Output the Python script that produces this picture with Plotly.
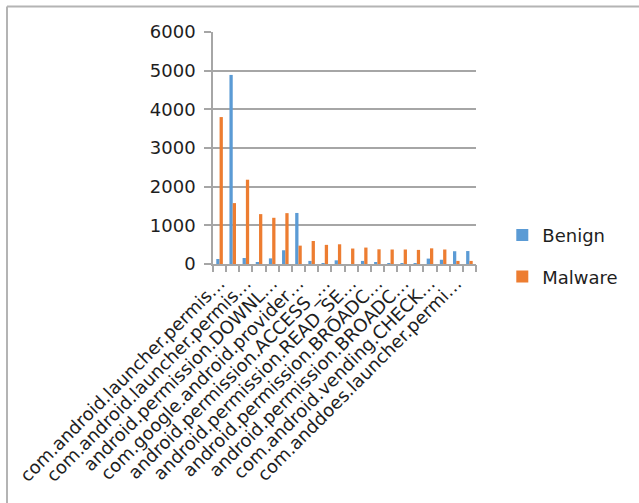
import plotly.graph_objects as go

# Permission labels as they appear on the axis (Excel-style truncation)
permissions = [
    "com.android.launcher.permis…",
    "com.android.launcher.permis…",
    "com.android.launcher.permis…",
    "android.permission.INTERN…",
    "android.permission.DOWNL…",
    "android.permission.WAKE_L…",
    "com.google.android.provider…",
    "android.permission.ACCESS_…",
    "android.permission.ACCESS_…",
    "android.permission.GET_TA…",
    "android.permission.READ_SE…",
    "android.permission.WRITE_…",
    "android.permission.BROADC…",
    "android.permission.BROADC…",
    "android.permission.BROADC…",
    "android.permission.BROADC…",
    "com.android.vending.CHECK…",
    "com.android.vending.BILLI…",
    "com.anddoes.launcher.permi…",
    "com.anddoes.launcher.permi…",
]
# Only every other category label is printed on the axis
labels_shown = [
    "com.android.launcher.permis…",
    "com.android.launcher.permis…",
    "android.permission.DOWNL…",
    "com.google.android.provider…",
    "android.permission.ACCESS_…",
    "android.permission.READ_SE…",
    "android.permission.BROADC…",
    "android.permission.BROADC…",
    "com.android.vending.CHECK…",
    "com.anddoes.launcher.permi…",
]

benign = [130, 4890, 155, 45, 145, 355, 1320, 80, 10, 95,
          0, 80, 35, 25, 25, 25, 140, 110, 330, 335]
malware = [3800, 1575, 2180, 1290, 1195, 1315, 475, 595, 495, 510,
           400, 425, 380, 375, 375, 365, 405, 375, 80, 80]

y_ticks = [0, 1000, 2000, 3000, 4000, 5000, 6000]

idx = list(range(len(benign)))
FONT = "DejaVu Sans"
GRID = "#a6a6a6"
TEXT = "#1e1e1e"
FS = 18

fig = go.Figure()
fig.add_trace(go.Bar(x=idx, y=benign, name="Benign", marker_color="#5b9bd5",
                     marker_line_width=0, legendgroup="b"))
fig.add_trace(go.Bar(x=idx, y=malware, name="Malware", marker_color="#ed7d31",
                     marker_line_width=0, legendgroup="m"))
# invisible trace on the overlay axis that carries the category boundary ticks
fig.add_trace(go.Scatter(x=[0], y=[0], xaxis="x2", mode="markers",
                         marker_opacity=0, showlegend=False, hoverinfo="skip"))

n = len(idx)
fig.update_layout(
    width=639, height=503,
    margin=dict(l=213, r=163, t=32, b=239),
    paper_bgcolor="white", plot_bgcolor="white",
    barmode="group", bargap=0.5, bargroupgap=0,
    font=dict(family=FONT, color=TEXT, size=FS),
    showlegend=True,
    legend=dict(x=1.10, y=0.035, xanchor="left", yanchor="middle",
                font=dict(size=FS, color=TEXT),
                tracegroupgap=15, itemwidth=30, bgcolor="rgba(0,0,0,0)"),
    xaxis=dict(
        range=[-0.5, n - 0.5],
        tickmode="array", tickvals=idx[::2], ticktext=labels_shown,
        tickangle=-45, ticks="", showgrid=False, zeroline=False,
        showline=True, linecolor=GRID, linewidth=1.5,
        tickfont=dict(size=FS, color=TEXT),
    ),
    xaxis2=dict(
        overlaying="x", matches="x", range=[-0.5, n - 0.5],
        tickmode="array", tickvals=[i - 0.5 for i in range(n + 1)],
        ticks="outside", ticklen=7, tickcolor=GRID, tickwidth=1.5,
        showticklabels=False, showgrid=False, zeroline=False, showline=False,
    ),
    yaxis=dict(
        range=[0, 6000], tickmode="array", tickvals=y_ticks,
        ticks="outside", ticklen=7, tickcolor=GRID, tickwidth=1.5,
        showgrid=True, gridcolor=GRID, gridwidth=1.5,
        zeroline=False, showline=True, linecolor=GRID, linewidth=1.5,
        tickfont=dict(size=FS, color=TEXT), ticklabelstandoff=5,
    ),
    shapes=[
        # outer chart frame (top and left edges)
        dict(type="line", xref="paper", yref="paper",
             x0=(7 - 213) / 263, x1=(645 - 213) / 263,
             y0=(264 - 6.5) / 232, y1=(264 - 6.5) / 232,
             line=dict(color="#b4b4b4", width=2)),
        dict(type="line", xref="paper", yref="paper",
             x0=(7 - 213) / 263, x1=(7 - 213) / 263,
             y0=(264 - 6.5) / 232, y1=(264 - 510) / 232,
             line=dict(color="#b4b4b4", width=2)),
    ],
)

fig.write_html("out.html")
